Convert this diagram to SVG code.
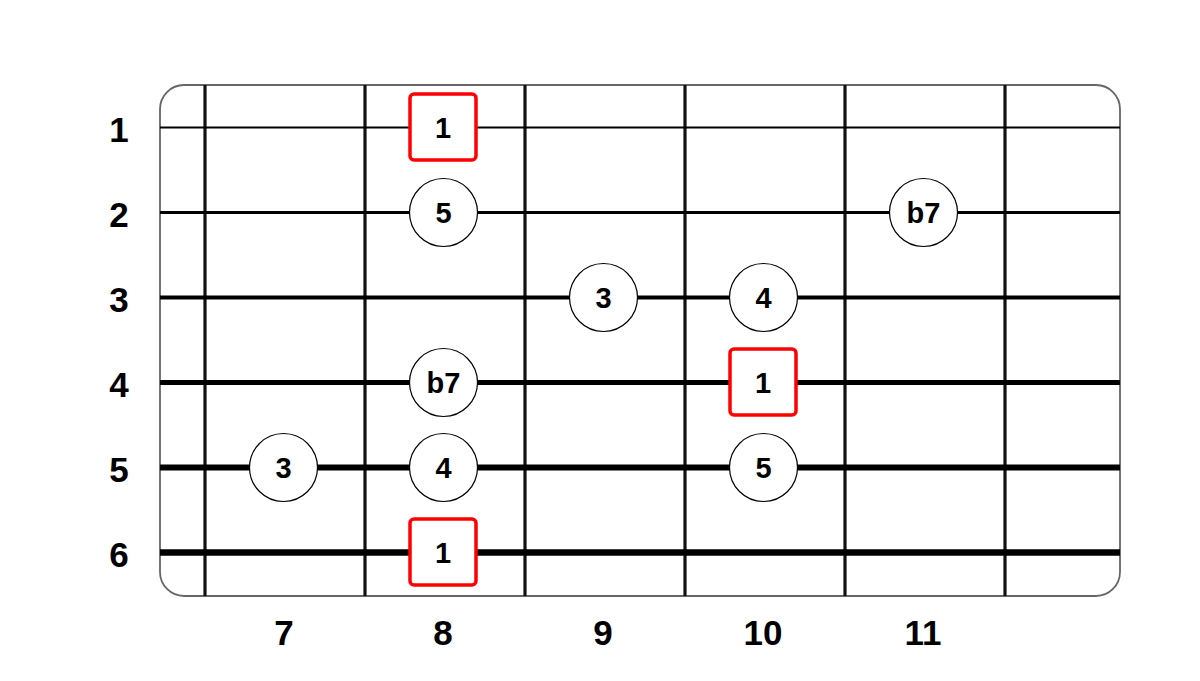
<svg xmlns="http://www.w3.org/2000/svg" width="1200" height="681" viewBox="0 0 1200 681">
<style>
.lbl{font-family:"Liberation Sans",Arial,sans-serif;font-weight:bold;font-size:35px;fill:#000;text-anchor:middle;dominant-baseline:central}
.nt{font-family:"Liberation Sans",Arial,sans-serif;font-weight:bold;font-size:29px;fill:#000;text-anchor:middle;dominant-baseline:central}
.fret{stroke:#111;stroke-width:3.2}
.str{stroke:#000}
.dot{fill:#fff;stroke:#000;stroke-width:1.2}
.root{fill:#fff;stroke:#f00;stroke-width:3.5}
</style>
<rect width="1200" height="681" fill="#fff"/>
<g id="board">
<rect x="160" y="85" width="960" height="511" rx="24" fill="#fff" stroke="#666" stroke-width="1.8"/>
</g>
<g id="frets">
<line class="fret" x1="205" y1="85" x2="205" y2="596"/>
<line class="fret" x1="365" y1="85" x2="365" y2="596"/>
<line class="fret" x1="525" y1="85" x2="525" y2="596"/>
<line class="fret" x1="685" y1="85" x2="685" y2="596"/>
<line class="fret" x1="845" y1="85" x2="845" y2="596"/>
<line class="fret" x1="1005" y1="85" x2="1005" y2="596"/>
</g>
<g id="strings">
<line class="str" x1="160" y1="127.5" x2="1120" y2="127.5" stroke-width="1.8"/>
<line class="str" x1="160" y1="212.5" x2="1120" y2="212.5" stroke-width="3"/>
<line class="str" x1="160" y1="297.5" x2="1120" y2="297.5" stroke-width="3.8"/>
<line class="str" x1="160" y1="382.5" x2="1120" y2="382.5" stroke-width="4.8"/>
<line class="str" x1="160" y1="467.5" x2="1120" y2="467.5" stroke-width="5.8"/>
<line class="str" x1="160" y1="552.5" x2="1120" y2="552.5" stroke-width="6.5"/>
</g>
<g id="string-labels">
<text class="lbl" x="119" y="129">1</text>
<text class="lbl" x="119" y="214">2</text>
<text class="lbl" x="119" y="299">3</text>
<text class="lbl" x="119" y="384">4</text>
<text class="lbl" x="119" y="469">5</text>
<text class="lbl" x="119" y="554">6</text>
</g>
<g id="fret-labels">
<text class="lbl" x="284" y="632">7</text>
<text class="lbl" x="443" y="632">8</text>
<text class="lbl" x="603" y="632">9</text>
<text class="lbl" x="763" y="632">10</text>
<text class="lbl" x="923" y="632">11</text>
</g>
<g id="n-s1-8"><rect class="root" x="410" y="94" width="66" height="66" rx="4"/><text class="nt" x="443" y="128">1</text></g>
<g id="n-s2-8"><circle class="dot" cx="443.5" cy="212.5" r="34"/><text class="nt" x="443.5" y="213">5</text></g>
<g id="n-s2-11"><circle class="dot" cx="923.5" cy="212.5" r="34"/><text class="nt" x="923.5" y="213">b7</text></g>
<g id="n-s3-9"><circle class="dot" cx="603.5" cy="297.5" r="34"/><text class="nt" x="603.5" y="298">3</text></g>
<g id="n-s3-10"><circle class="dot" cx="763.5" cy="297.5" r="34"/><text class="nt" x="763.5" y="298">4</text></g>
<g id="n-s4-8"><circle class="dot" cx="443.5" cy="382.5" r="34"/><text class="nt" x="443.5" y="383">b7</text></g>
<g id="n-s4-10"><rect class="root" x="730" y="349" width="66" height="66" rx="4"/><text class="nt" x="763" y="383">1</text></g>
<g id="n-s5-7"><circle class="dot" cx="283.5" cy="467.5" r="34"/><text class="nt" x="283.5" y="468">3</text></g>
<g id="n-s5-8"><circle class="dot" cx="443.5" cy="467.5" r="34"/><text class="nt" x="443.5" y="468">4</text></g>
<g id="n-s5-10"><circle class="dot" cx="763.5" cy="467.5" r="34"/><text class="nt" x="763.5" y="468">5</text></g>
<g id="n-s6-8"><rect class="root" x="410" y="519" width="66" height="66" rx="4"/><text class="nt" x="443" y="553">1</text></g>
</svg>
